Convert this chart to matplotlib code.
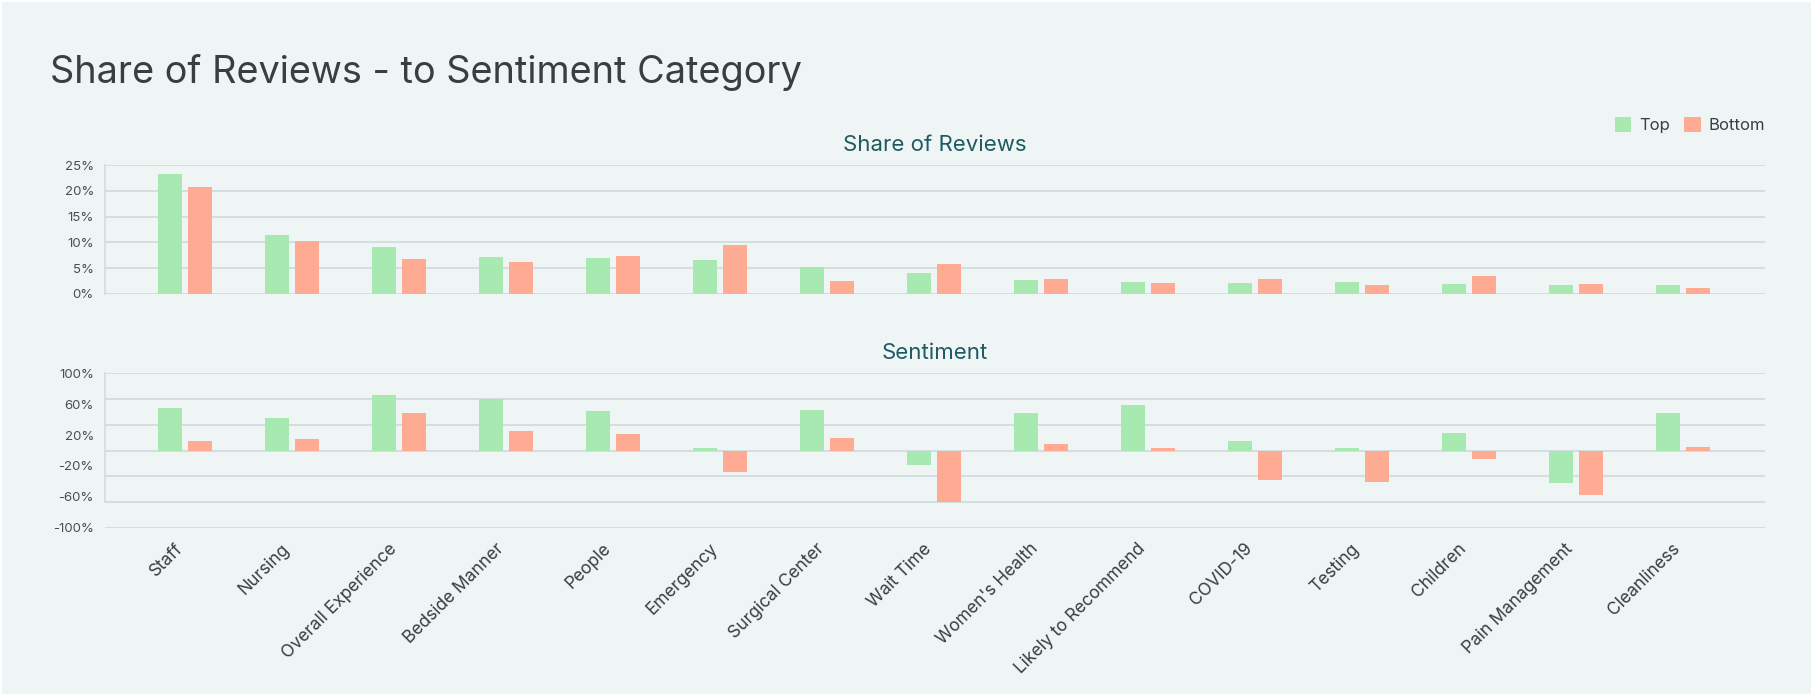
import matplotlib
matplotlib.use("Agg")
import matplotlib.pyplot as plt
import numpy as np
from matplotlib.patches import Rectangle
from matplotlib.transforms import ScaledTranslation

plt.rcParams['font.family'] = ['Inter', 'DejaVu Sans']

categories = ["Staff", "Nursing", "Overall Experience", "Bedside Manner", "People",
              "Emergency", "Surgical Center", "Wait Time", "Women's Health",
              "Likely to Recommend", "COVID-19", "Testing", "Children",
              "Pain Management", "Cleanliness"]
share_top = [23.3, 11.4, 9.1, 7.2, 7.0, 6.6, 5.2, 4.1, 2.7, 2.3, 2.1, 2.3, 1.9, 1.7, 1.7]
share_bottom = [20.7, 10.3, 6.8, 6.2, 7.4, 9.5, 2.5, 5.8, 2.9, 2.1, 2.9, 1.7, 3.5, 1.9, 1.2]
sent_top = [55.2, 42.2, 72.0, 66.4, 51.3, 3.4, 52.6, -18.5, 48.7, 59.0, 12.5, 3.4, 22.8, -41.8, 48.7]
sent_bottom = [12.5, 15.1, 48.7, 25.4, 21.6, -27.6, 16.4, -66.4, 8.6, 3.4, -37.9, -40.5, -10.8, -57.3, 4.7]
share_ticks = [0, 5, 10, 15, 20, 25]
sent_ticks = [-100, -60, -20, 20, 60, 100]
sent_grid = [-100, -66.67, -33.33, 0, 33.33, 66.67, 100]
series_names = ["Top", "Bottom"]

BG = "#eff5f5"
GREEN = "#a8e8b1"
SALMON = "#ffaa92"
GRID = "#cfdcdd"
TICKC = "#4a4d52"

W, H = 1813, 696
fig = plt.figure(figsize=(W / 100, H / 100), dpi=100, facecolor="white")
fig.patches.append(Rectangle((2 / W, 2 / H), 1 - 4 / W, 1 - 4 / H, transform=fig.transFigure,
                             facecolor=BG, edgecolor="none", zorder=-10))

def axrect(left, top, right, bottom):
    return [left / W, 1 - bottom / H, (right - left) / W, (bottom - top) / H]

ax1 = fig.add_axes(axrect(105, 165, 1765, 294))
ax2 = fig.add_axes(axrect(105, 373.3, 1765, 527.7))

x = np.arange(len(categories))
bw = 0.225
off = 0.14

for ax in (ax1, ax2):
    ax.set_facecolor("none")
    ax.set_xlim(-0.75, len(categories) - 1 + 0.77)
    for s in ("top", "right", "bottom"):
        ax.spines[s].set_visible(False)
    ax.spines["left"].set_color(GRID)
    ax.spines["left"].set_linewidth(1.2)
    ax.tick_params(axis="y", length=0, labelsize=9.5, labelcolor=TICKC, pad=8)
    ax.tick_params(axis="x", length=0)

# Top chart
ax1.bar(x - off, share_top, width=bw, color=GREEN, zorder=3, label=series_names[0])
ax1.bar(x + off, share_bottom, width=bw, color=SALMON, zorder=3, label=series_names[1])
ax1.set_ylim(0, 25)
ax1.set_yticks(share_ticks)
ax1.set_yticklabels([f"{t}%" for t in share_ticks])
for t in share_ticks:
    ax1.axhline(t, color=GRID, lw=1.3, zorder=1)
ax1.set_xticks([])
ax1.set_title("Share of Reviews", fontsize=16, color="#1d5b63", pad=10)

# Bottom chart
ax2.bar(x - off, sent_top, width=bw, color=GREEN, zorder=3)
ax2.bar(x + off, sent_bottom, width=bw, color=SALMON, zorder=3)
ax2.set_ylim(-100, 100)
ax2.set_yticks(sent_ticks)
ax2.set_yticklabels([f"{t}%" for t in sent_ticks])
for g in sent_grid:
    ax2.axhline(g, color=GRID, lw=1.3, zorder=1)
ax2.spines["left"].set_bounds(-66.67, 100)
ax2.set_title("Sentiment", fontsize=16, color="#1d5b63", pad=10)
ax2.set_xticks(x)
ax2.set_xticklabels(categories, rotation=45, ha="right", va="top", rotation_mode="anchor",
                    fontsize=12.5, color="#3a3d42")
ax2.tick_params(axis="x", pad=9)
shift = ScaledTranslation(-11 / 100, 0, fig.dpi_scale_trans)
for lab in ax2.get_xticklabels():
    lab.set_transform(lab.get_transform() + shift)

fig.text(50 / W, 1 - 83 / H, "Share of Reviews - to Sentiment Category", fontsize=27.3,
         color="#3a3d42", ha="left", va="baseline")

fig.legend(loc="upper right", bbox_to_anchor=(1772 / W, 1 - 110 / H), ncol=2, frameon=False,
           fontsize=12, handlelength=1.0, handleheight=1.0, handletextpad=0.5,
           columnspacing=0.8, labelcolor="#3a3d42", borderaxespad=0)

fig.savefig("out.png", dpi=100, facecolor=fig.get_facecolor())
